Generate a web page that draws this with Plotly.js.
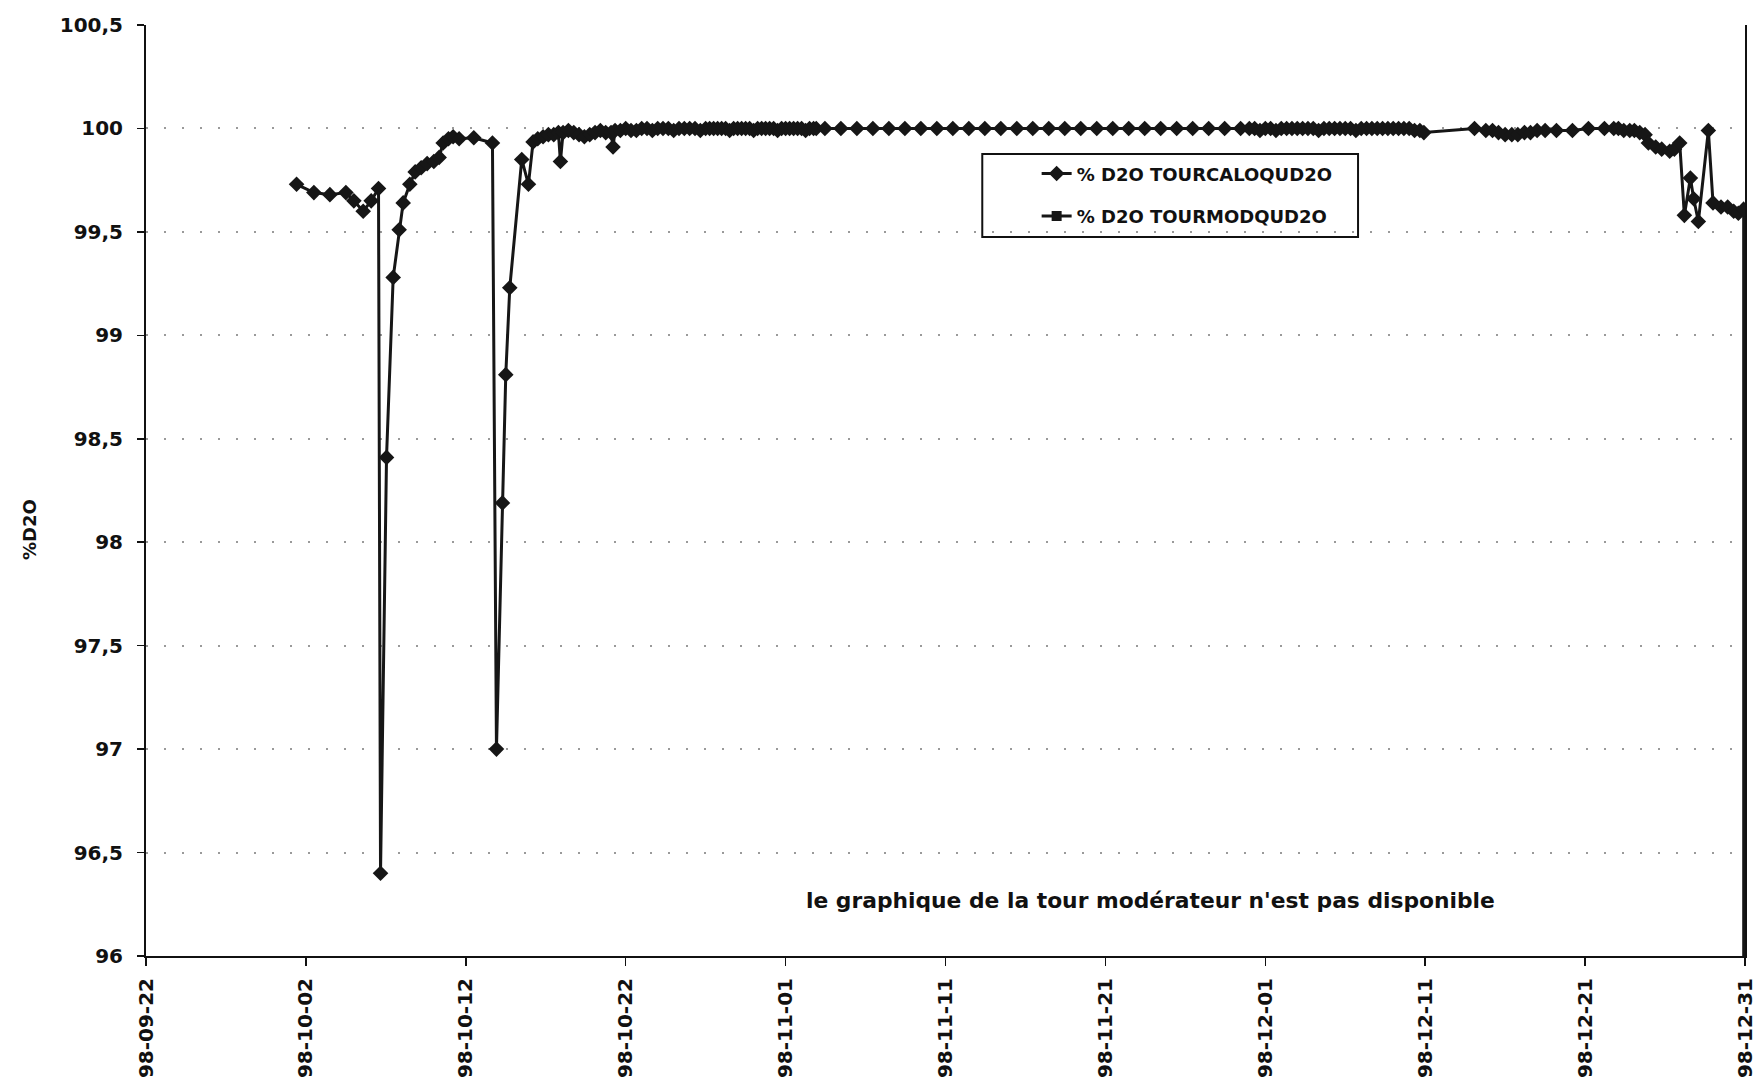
<!DOCTYPE html>
<html>
<head>
<meta charset="utf-8">
<script src="https://cdn.plot.ly/plotly-3.0.1.min.js"></script>
<style>
  html, body { margin: 0; padding: 0; background: #ffffff; }
  #chart { width: 1758px; height: 1087px; }
</style>
</head>
<body>
<div id="chart"></div>
<script>
// ---- Data: % D2O TOURCALOQUD2O, 5 per line, dates and values aligned ----
var calDates = [
  // Oct 1 - Oct 16
  '1998-10-01 10:00','1998-10-02 12:00','1998-10-03 12:00','1998-10-04 12:00','1998-10-05 00:00',
  '1998-10-05 14:00','1998-10-06 02:00','1998-10-06 13:00','1998-10-06 16:00','1998-10-07 01:00',
  '1998-10-07 11:00','1998-10-07 20:00','1998-10-08 02:00','1998-10-08 12:00','1998-10-08 20:00',
  '1998-10-09 05:00','1998-10-09 14:00','1998-10-10 00:00','1998-10-10 08:00','1998-10-10 14:00',
  '1998-10-10 22:00','1998-10-11 05:00','1998-10-11 14:00','1998-10-12 12:00','1998-10-13 16:00',
  '1998-10-13 22:00','1998-10-14 07:00','1998-10-14 12:00','1998-10-14 18:00','1998-10-15 12:00',
  '1998-10-15 22:00','1998-10-16 05:00','1998-10-16 12:00','1998-10-16 20:00','1998-10-17 04:00',
  // Oct 17 - Nov 2 (dense)
  '1998-10-17 12:00','1998-10-17 19:00','1998-10-17 22:00','1998-10-18 02:00','1998-10-18 10:00',
  '1998-10-18 18:00','1998-10-19 02:00','1998-10-19 10:00','1998-10-19 18:00','1998-10-20 02:00',
  '1998-10-20 10:00','1998-10-20 18:00','1998-10-21 02:00','1998-10-21 05:00','1998-10-21 08:00',
  '1998-10-21 16:00','1998-10-22 00:00','1998-10-22 08:00','1998-10-22 16:00','1998-10-23 00:00',
  '1998-10-23 08:00','1998-10-23 16:00','1998-10-24 00:00','1998-10-24 08:00','1998-10-24 16:00',
  '1998-10-25 00:00','1998-10-25 08:00','1998-10-25 16:00','1998-10-26 00:00','1998-10-26 08:00',
  '1998-10-26 16:00','1998-10-27 00:00','1998-10-27 06:00','1998-10-27 12:00','1998-10-27 18:00',
  '1998-10-28 00:00','1998-10-28 06:00','1998-10-28 12:00','1998-10-28 18:00','1998-10-29 00:00',
  '1998-10-29 06:00','1998-10-29 12:00','1998-10-29 18:00','1998-10-30 00:00','1998-10-30 06:00',
  '1998-10-30 12:00','1998-10-30 18:00','1998-10-31 00:00','1998-10-31 06:00','1998-10-31 12:00',
  '1998-10-31 18:00','1998-11-01 00:00','1998-11-01 06:00','1998-11-01 12:00','1998-11-01 18:00',
  '1998-11-02 00:00','1998-11-02 06:00','1998-11-02 12:00','1998-11-02 18:00','1998-11-02 22:00',
  // Nov 3 - Nov 29 (daily)
  '1998-11-03 11:00','1998-11-04 11:00','1998-11-05 11:00','1998-11-06 11:00','1998-11-07 11:00',
  '1998-11-08 11:00','1998-11-09 11:00','1998-11-10 11:00','1998-11-11 11:00','1998-11-12 11:00',
  '1998-11-13 11:00','1998-11-14 11:00','1998-11-15 11:00','1998-11-16 11:00','1998-11-17 11:00',
  '1998-11-18 11:00','1998-11-19 11:00','1998-11-20 11:00','1998-11-21 11:00','1998-11-22 11:00',
  '1998-11-23 11:00','1998-11-24 11:00','1998-11-25 11:00','1998-11-26 11:00','1998-11-27 11:00',
  '1998-11-28 11:00','1998-11-29 11:00','1998-11-30 00:00','1998-11-30 08:00','1998-11-30 16:00',
  // Dec 1 - Dec 10 (dense)
  '1998-12-01 00:00','1998-12-01 08:00','1998-12-01 16:00','1998-12-02 00:00','1998-12-02 08:00',
  '1998-12-02 16:00','1998-12-03 00:00','1998-12-03 08:00','1998-12-03 16:00','1998-12-04 00:00',
  '1998-12-04 08:00','1998-12-04 16:00','1998-12-05 00:00','1998-12-05 08:00','1998-12-05 16:00',
  '1998-12-06 00:00','1998-12-06 08:00','1998-12-06 16:00','1998-12-07 00:00','1998-12-07 08:00',
  '1998-12-07 16:00','1998-12-08 00:00','1998-12-08 08:00','1998-12-08 16:00','1998-12-09 00:00',
  '1998-12-09 08:00','1998-12-09 16:00','1998-12-10 00:00','1998-12-10 08:00','1998-12-10 16:00',
  // Dec 10 - Dec 31
  '1998-12-10 22:00','1998-12-14 02:00','1998-12-14 19:00','1998-12-15 05:00','1998-12-15 14:00',
  '1998-12-16 00:00','1998-12-16 10:00','1998-12-16 19:00','1998-12-17 05:00','1998-12-17 14:00',
  '1998-12-18 00:00','1998-12-18 12:00','1998-12-19 05:00','1998-12-20 05:00','1998-12-21 05:00',
  '1998-12-22 05:00','1998-12-22 19:00','1998-12-23 02:00','1998-12-23 10:00','1998-12-23 19:00',
  '1998-12-24 02:00','1998-12-24 10:00','1998-12-24 18:00','1998-12-24 23:00','1998-12-25 10:00',
  '1998-12-25 19:00','1998-12-26 07:00','1998-12-26 14:00','1998-12-26 22:00','1998-12-27 05:00',
  '1998-12-27 14:00','1998-12-27 19:00','1998-12-28 02:00','1998-12-28 17:00','1998-12-29 00:00',
  '1998-12-29 12:00','1998-12-29 22:00','1998-12-30 07:00','1998-12-30 14:00','1998-12-30 22:00',
  '1998-12-31 00:00'
];
var calValues = [
  // Oct 1 - Oct 16
  99.73, 99.69, 99.68, 99.69, 99.65,
  99.60, 99.65, 99.71, 96.40, 98.41,
  99.28, 99.51, 99.64, 99.73, 99.79,
  99.81, 99.83, 99.84, 99.86, 99.93,
  99.95, 99.96, 99.95, 99.955, 99.93,
  97.00, 98.19, 98.81, 99.23, 99.85,
  99.73, 99.935, 99.95, 99.96, 99.97,
  // Oct 17 - Nov 2 (dense)
  99.97, 99.98, 99.84, 99.98, 99.99,
  99.98, 99.97, 99.96, 99.97, 99.98,
  99.99, 99.98, 99.98, 99.91, 99.99,
  99.99, 100.0, 99.99, 99.99, 100.0,
  100.0, 99.99, 100.0, 100.0, 100.0,
  99.99, 100.0, 100.0, 100.0, 100.0,
  99.99, 100.0, 100.0, 100.0, 100.0,
  100.0, 100.0, 99.99, 100.0, 100.0,
  100.0, 100.0, 100.0, 99.99, 100.0,
  100.0, 100.0, 100.0, 100.0, 99.99,
  100.0, 100.0, 100.0, 100.0, 100.0,
  100.0, 99.99, 100.0, 100.0, 100.0,
  // Nov 3 - Nov 29 (daily)
  100.0, 100.0, 100.0, 100.0, 100.0,
  100.0, 100.0, 100.0, 100.0, 100.0,
  100.0, 100.0, 100.0, 100.0, 100.0,
  100.0, 100.0, 100.0, 100.0, 100.0,
  100.0, 100.0, 100.0, 100.0, 100.0,
  100.0, 100.0, 100.0, 100.0, 99.99,
  // Dec 1 - Dec 10 (dense)
  100.0, 100.0, 99.99, 100.0, 100.0,
  100.0, 100.0, 100.0, 100.0, 100.0,
  99.99, 100.0, 100.0, 100.0, 100.0,
  100.0, 100.0, 99.99, 100.0, 100.0,
  100.0, 100.0, 100.0, 100.0, 100.0,
  100.0, 100.0, 100.0, 99.99, 99.99,
  // Dec 10 - Dec 31
  99.98, 100.0, 99.99, 99.99, 99.98,
  99.97, 99.97, 99.97, 99.98, 99.98,
  99.99, 99.99, 99.99, 99.99, 100.0,
  100.0, 100.0, 100.0, 99.99, 99.99,
  99.99, 99.98, 99.97, 99.93, 99.91,
  99.90, 99.89, 99.90, 99.93, 99.58,
  99.76, 99.66, 99.55, 99.99, 99.64,
  99.62, 99.62, 99.60, 99.59, 99.61,
  0
];

// ---- Data: % D2O TOURMODQUD2O (not available) ----
var modDates = ['1998-12-31'];
var modValues = [null];

// ---- Labels ----
var calName = '% D2O TOURCALOQUD2O';
var modName = '% D2O TOURMODQUD2O';
var yTitle = '%D2O';
var note = "le graphique de la tour modérateur n'est pas disponible";

var FONT = 'DejaVu Sans, Arial, sans-serif';
var INK = '#161616';

var traces = [
  {
    x: calDates, y: calValues, name: calName, type: 'scatter', mode: 'lines+markers',
    line: {color: INK, width: 3},
    marker: {symbol: 'diamond', size: 12, color: INK},
    legendgroup: 'a'
  },
  {
    x: modDates, y: modValues, name: modName, type: 'scatter', mode: 'lines+markers',
    line: {color: INK, width: 3},
    marker: {symbol: 'square', size: 10, color: INK},
    legendgroup: 'b', showlegend: true
  }
];

var layout = {
  width: 1758, height: 1087,
  margin: {l: 146, r: 13, t: 25, b: 131},
  paper_bgcolor: '#ffffff', plot_bgcolor: '#ffffff',
  separators: ', ',
  showlegend: true,
  font: {family: FONT, color: '#111111'},
  xaxis: {
    type: 'date',
    range: ['1998-09-22', '1998-12-31'],
    tick0: '1998-09-22', dtick: 864000000,
    tickformat: '%y-%m-%d',
    tickangle: -90,
    ticks: 'outside', ticklen: 8, tickwidth: 1.5, tickcolor: '#111',
    ticklabelstandoff: 4,
    tickfont: {family: FONT, size: 20, weight: 'bold', color: '#111'},
    showgrid: false, zeroline: false,
    showline: true, linecolor: '#111', linewidth: 2
  },
  yaxis: {
    range: [96, 100.5], dtick: 0.5, tick0: 96,
    ticks: 'outside', ticklen: 7, tickwidth: 1.5, tickcolor: '#111',
    ticklabelstandoff: 10,
    tickfont: {family: FONT, size: 20, weight: 'bold', color: '#111'},
    showgrid: true, gridcolor: '#9a9a9a', gridwidth: 2, griddash: '2px,16px',
    zeroline: false,
    showline: true, linecolor: '#111', linewidth: 2, mirror: true
  },
  legend: {
    x: 0.557, y: 0.860, xanchor: 'left', yanchor: 'top',
    bgcolor: 'rgba(0,0,0,0)', borderwidth: 0,
    font: {family: FONT, size: 18, weight: 'bold', color: '#111'},
    traceorder: 'grouped', tracegroupgap: 16
  },
  shapes: [
    {type: 'rect', xref: 'paper', yref: 'paper', x0: 0.523, x1: 0.758, y0: 0.7723, y1: 0.8614,
     line: {color: '#111', width: 2}, fillcolor: 'rgba(0,0,0,0)', layer: 'below'}
  ],
  annotations: [
    {text: yTitle, xref: 'paper', yref: 'paper', x: -0.0725, y: 0.4576, textangle: -90,
     showarrow: false, xanchor: 'center', yanchor: 'middle',
     font: {family: FONT, size: 18, weight: 'bold', color: '#111'}},
    {text: note, xref: 'paper', yref: 'y', x: 0.628, y: 96.27, showarrow: false,
     xanchor: 'center', yanchor: 'middle',
     font: {family: FONT, size: 21.8, weight: 'bold', color: '#111'}}
  ]
};

Plotly.newPlot('chart', traces, layout, {displayModeBar: false, staticPlot: true});
</script>
</body>
</html>
